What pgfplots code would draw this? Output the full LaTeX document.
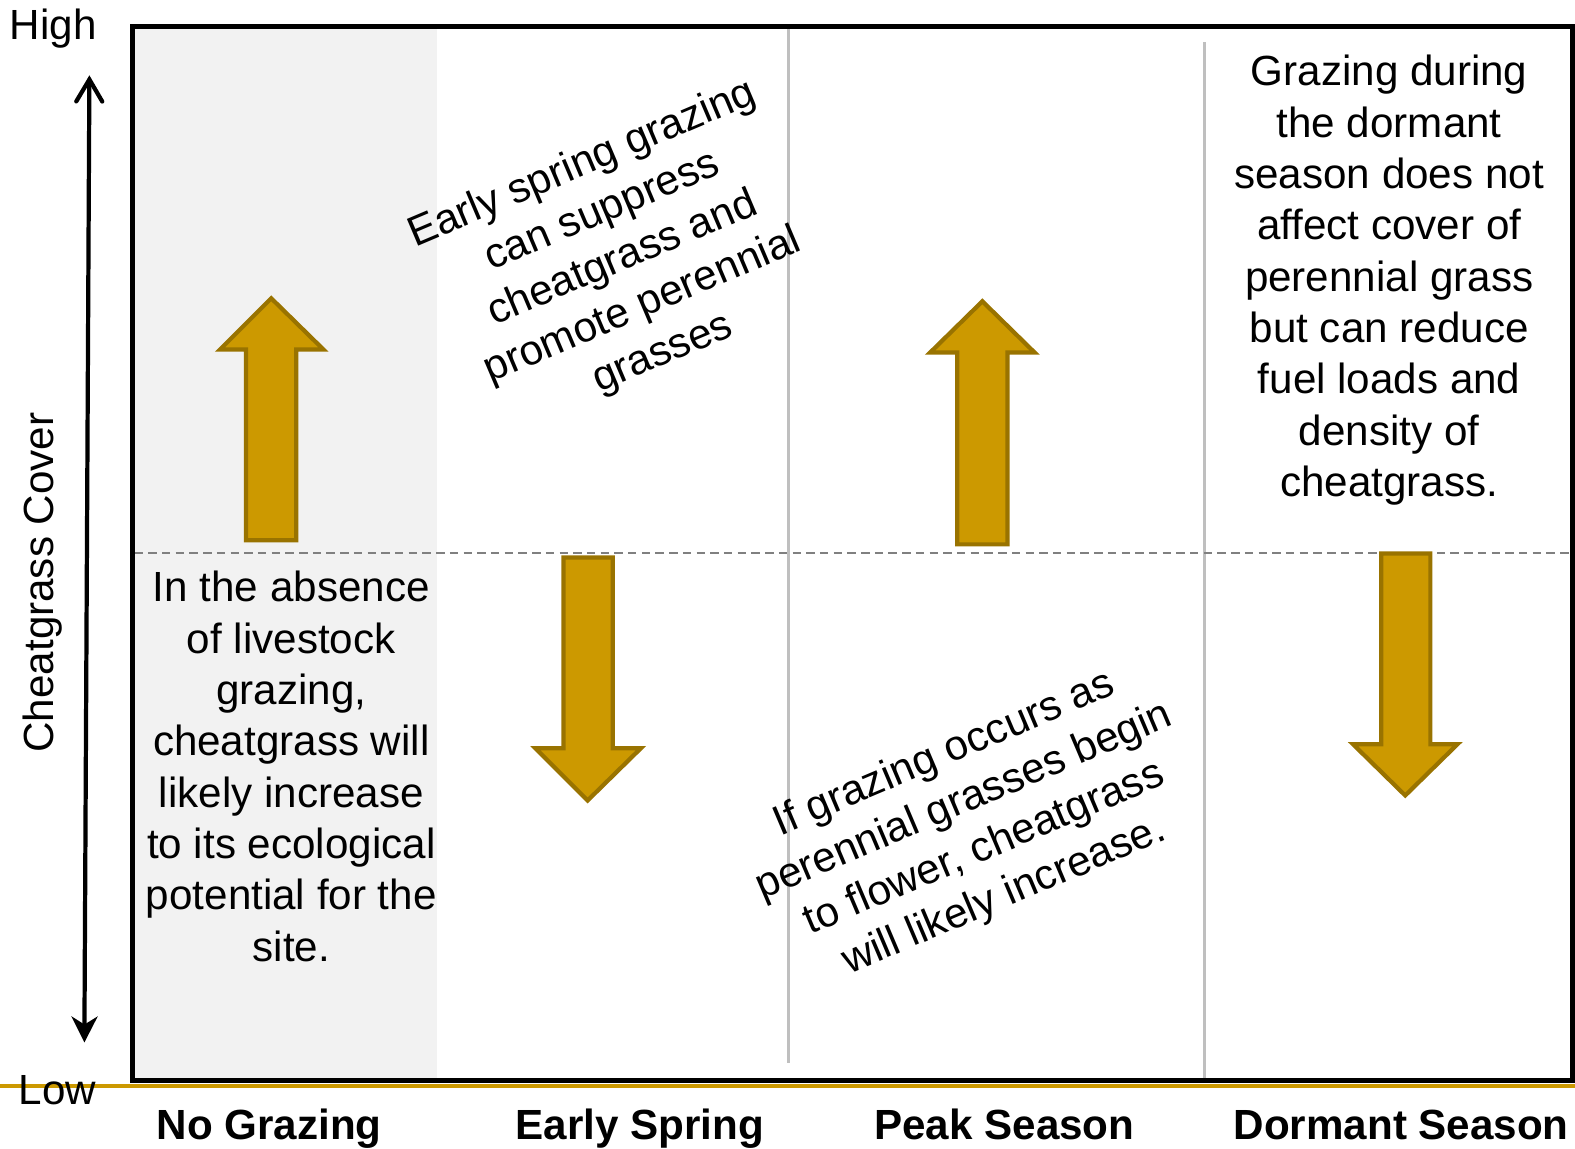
\documentclass[border=0pt]{standalone}
\usepackage{fontspec}
\setmainfont{Liberation Sans}
\usepackage{pgfplots}
\pgfplotsset{compat=1.18}
\usetikzlibrary{arrows.meta}
\definecolor{gold}{RGB}{204,153,0}
\definecolor{golddark}{RGB}{153,115,0}
\definecolor{shade}{RGB}{242,242,242}
\definecolor{divider}{RGB}{191,191,191}
\definecolor{midline}{RGB}{128,128,128}
\begin{document}
\begin{tikzpicture}[txt/.style={font=\fontsize{12}{14.6}\selectfont, align=center, inner sep=0pt},
  season/.style={font=\fontsize{12}{14.6}\selectfont\bfseries, inner sep=0pt, anchor=base}]
\begin{axis}[
  hide axis, scale only axis, clip=false,
  width=15.75cm, height=11.49cm,
  xmin=0, xmax=1568, ymin=0, ymax=1144,
  y dir=reverse,
]
  % shaded "no grazing" column
  \addplot[fill=shade, draw=none] coordinates {(134,28)(435,28)(435,1074)(134,1074)} -- cycle;
  % season dividers and mid line
  \addplot[divider, line width=0.85pt] coordinates {(785,28)(785,1058)};
  \addplot[divider, line width=0.85pt] coordinates {(1199,42)(1199,1076)};
  \addplot[midline, line width=0.6pt, dash pattern=on 2.4pt off 1.5pt] coordinates {(134,551)(1562,551)};
  % frame
  \addplot[black, line width=1.45pt, line join=miter] coordinates {(132,26)(1566,26)(1566,1076)(132,1076)} -- cycle;
  \addplot[gold, line width=1.2pt] coordinates {(0,1081)(1568,1081)};
  % cover axis arrow
  \addplot[black, line width=1.2pt,
    {Straight Barb[length=2.2mm,width=2.6mm,line cap=round]}-{Stealth[length=2.6mm,width=2.6mm,inset=0.8mm]}]
    coordinates {(89,75)(84,1038)};

  % block arrows
  \addplot[fill=gold, draw=golddark, line width=1.2pt, line join=miter] coordinates {
    (245,538)(245,348)(219,348)(270,297)(322,348)(295,348)(295,538)} -- cycle;
  \addplot[fill=gold, draw=golddark, line width=1.2pt, line join=miter] coordinates {
    (561,555)(561,745)(533,745)(585,797)(638,745)(610,745)(610,555)} -- cycle;
  \addplot[fill=gold, draw=golddark, line width=1.2pt, line join=miter] coordinates {
    (953,542)(953,351)(926,351)(978,300)(1030,351)(1003,351)(1003,542)} -- cycle;
  \addplot[fill=gold, draw=golddark, line width=1.2pt, line join=miter] coordinates {
    (1375,551)(1375,741)(1347,741)(1399,792)(1451,741)(1424,741)(1424,551)} -- cycle;

  % labels
  \node[txt] at (axis cs:53,28) {High};
  \node[txt] at (axis cs:57,1085) {Low};
  \node[txt, rotate=90] at (axis cs:42,580) {Cheatgrass Cover};
  \node[season] at (axis cs:268,1135) {No Grazing};
  \node[season] at (axis cs:637,1135) {Early Spring};
  \node[season] at (axis cs:1000,1135) {Peak Season};
  \node[season] at (axis cs:1395,1135) {Dormant Season};

  \node[txt] at (axis cs:290,763) {In the absence\\of livestock\\grazing,\\cheatgrass will\\likely increase\\to its ecological\\potential for the\\site.};
  \node[txt] at (axis cs:1383,279) {Grazing during\\the dormant\\season does not\\affect cover of\\perennial grass\\but can reduce\\fuel loads and\\density of\\cheatgrass.};
  \node[txt, rotate=23] at (axis cs:620,258) {Early spring grazing\\can suppress\\cheatgrass and\\promote perennial\\grasses};
  \node[txt, rotate=23] at (axis cs:970,822) {If grazing occurs as\\perennial grasses begin\\to flower, cheatgrass\\will likely increase.};
\end{axis}
\pgfresetboundingbox
\path (current axis.south west) rectangle (current axis.north east);
\end{tikzpicture}
\end{document}
